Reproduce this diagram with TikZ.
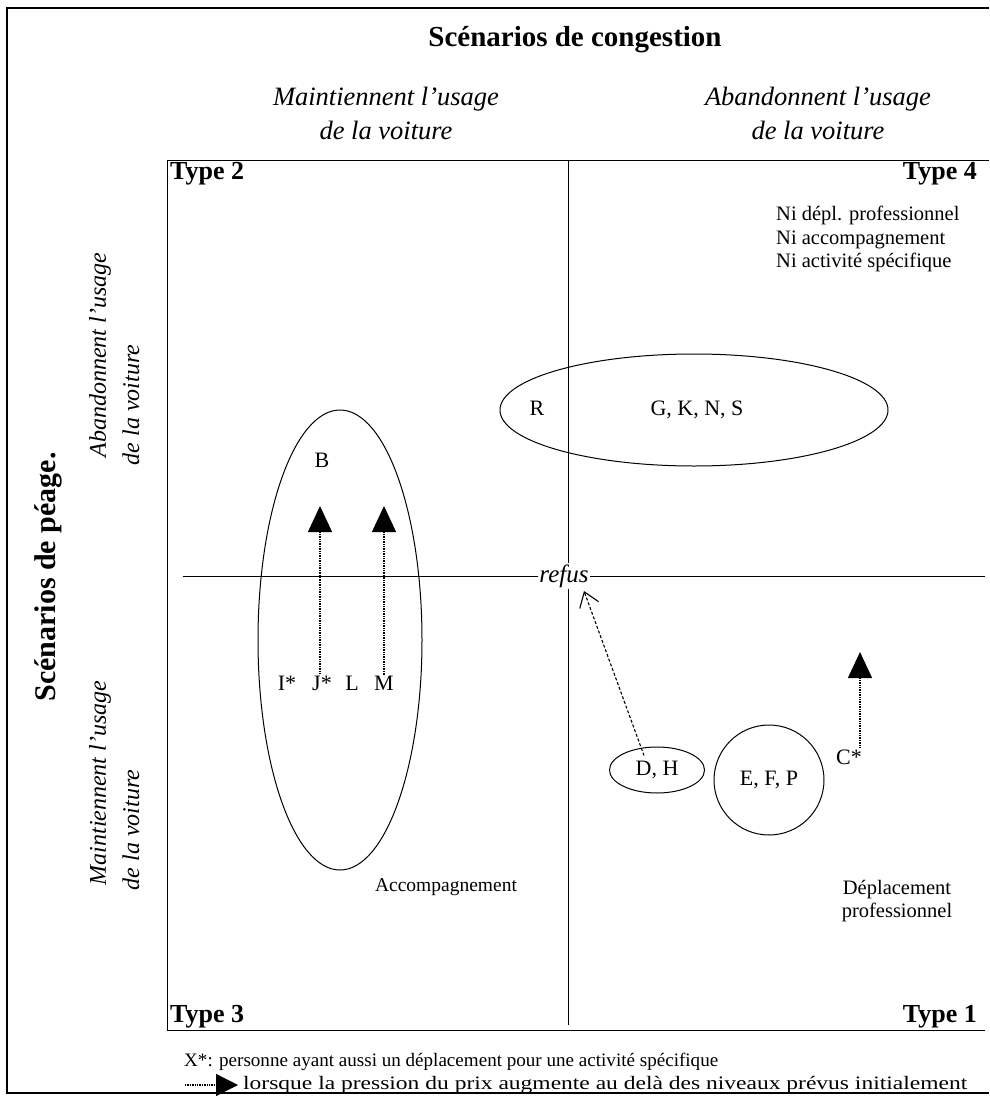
\documentclass[tikz,border=0pt]{standalone}
\usepackage{fontspec}
\setmainfont{Liberation Serif}
\usetikzlibrary{arrows.meta,shapes.geometric}

\tikzset{
  frame/.style={line width=1.2pt},
  axis/.style={line width=1pt},
  grp/.style={draw, ellipse, line width=1pt, inner sep=0pt},
  lbl/.style={font=\fontsize{20.5}{23.5}\selectfont, inner sep=1pt},
  letters/.style={font=\fontsize{22}{24}\selectfont, inner sep=1pt},
  typelbl/.style={font=\bfseries\fontsize{26}{28}\selectfont, inner sep=1pt},
  head/.style={font=\itshape\fontsize{26.5}{34}\selectfont, align=center},
  vhead/.style={font=\itshape\fontsize{24}{28}\selectfont, rotate=90, inner sep=1pt},
  legend/.style={font=\fontsize{19}{20}\selectfont, anchor=west, inner sep=0pt},
  rise/.style={densely dotted, line width=1.4pt, -{Triangle[length=26pt,width=24pt]}},
  drift/.style={densely dashed, line width=1.1pt, -{Straight Barb[length=14pt,width=20pt]}},
}

\begin{document}
\begin{tikzpicture}[x=1pt,y=-1pt]
\useasboundingbox (0,0) rectangle (989,1100);

% outer frame
\draw[frame] (989,8) -- (7,8) -- (7,1093) -- (989,1093);

% titles
\node[font=\bfseries\fontsize{29}{31}\selectfont] (title) at (575,40) {Scénarios de congestion};
\node[head] (hkeep) at (386,113) {Maintiennent l'usage\\de la voiture};
\node[head] (hquit) at (818,113) {Abandonnent l'usage\\de la voiture};

\node[font=\bfseries\fontsize{30}{32}\selectfont, rotate=90] (vtitle) at (48,577) {Scénarios de péage.};
\node[vhead] (vq1) at (100,355) {Abandonnent l'usage};
\node[vhead] (vq2) at (131,405) {de la voiture};
\node[vhead] (vk1) at (100,783) {Maintiennent l'usage};
\node[vhead] (vk2) at (131,830) {de la voiture};

% quadrant grid
\coordinate (tl) at (167,160);
\coordinate (tr) at (989,160);
\coordinate (bl) at (167,1030);
\coordinate (br) at (985,1030);
\coordinate (vt) at (568,160);
\coordinate (vb) at (568,1025);
\coordinate (hw) at (183,576);
\coordinate (he) at (985,576);
\draw[axis] (tr) -- (tl) -- (bl) -- (br);

\node[font=\itshape\fontsize{25}{27}\selectfont, inner sep=1pt] (refus) at (564,576) {refus};
\draw[axis] (vt) -- (vt |- refus.north);
\draw[axis] (vt |- refus.south) -- (vb);
\draw[axis] (hw) -- (refus.west);
\draw[axis] (refus.east) -- (he);

% quadrant captions
\node[typelbl, anchor=north west] (t2) at (169,161) {Type 2};
\node[typelbl, anchor=north east] (t4) at (978,161) {Type 4};
\node[typelbl, anchor=south west] (t3) at (169,1029) {Type 3};
\node[typelbl, anchor=south east] (t1) at (978,1029) {Type 1};

\node[lbl, anchor=north west, align=left] (ni) at (775,205) {Ni dépl. professionnel\\Ni accompagnement\\Ni activité spécifique};
\node[lbl, font=\fontsize{19.5}{23.5}\selectfont] (acc) at (446,887) {Accompagnement};
\node[lbl, align=center] (dep) at (897,901) {Déplacement\\professionnel};

% groups
\node[grp, minimum width=164pt, minimum height=460pt] (eB) at (340,640) {};
\node[letters] (b) at (322,460) {B};
\node[letters] (istar) at (287,683) {I*};
\node[letters] (jstar) at (322,683) {J*};
\node[letters] (l) at (352,683) {L};
\node[letters] (m) at (384,683) {M};

\node[grp, minimum width=388pt, minimum height=112pt] (eG) at (694,410) {};
\node[letters] (r) at (537,408) {R};
\node[letters] (gkns) at (697,410) {G, K, N, S};

\node[grp, minimum width=95pt, minimum height=46pt] (dh) at (657,770) {};
\node[letters] at (dh) {D, H};
\node[grp, circle, minimum size=110pt] (efp) at (769,780) {};
\node[letters] at (efp) {E, F, P};
\node[letters] (cstar) at (849,757) {C*};

% shifts under rising price pressure
\coordinate (tipJ) at (320,506);
\coordinate (tipM) at (384,506);
\coordinate (tipC) at (860,652);
\draw[rise] (tipJ |- jstar.north) -- (tipJ);
\draw[rise] (tipM |- m.north) -- (tipM);
\draw[rise] (tipC |- cstar.north) -- (tipC);

\coordinate (tipR) at (584,591);
\draw[drift] ([xshift=-13pt,yshift=-9pt]dh.north) -- (tipR);

% legend
\node[legend] (leg1) at (184,1062) {\resizebox{534pt}{\height}{X*: personne ayant aussi un déplacement pour une activité spécifique}};
\coordinate (lg0) at (185,1085);
\coordinate (lg1) at (238,1085);
\draw[rise, -{Triangle[length=22pt,width=22pt]}] (lg0) -- (lg1);
\node[legend] (leg2) at (243,1085) {\resizebox{724pt}{\height}{lorsque la pression du prix augmente au delà des niveaux prévus initialement}};
\end{tikzpicture}
\end{document}
